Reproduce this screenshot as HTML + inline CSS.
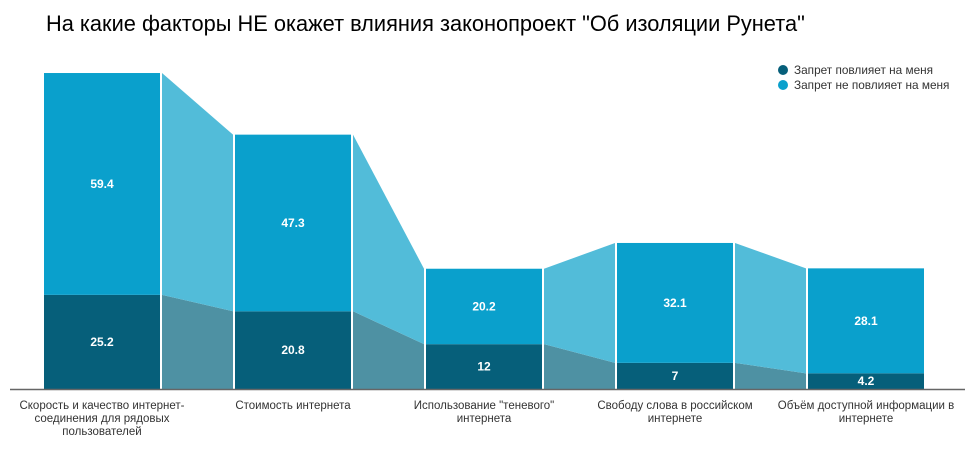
<!DOCTYPE html>
<html><head><meta charset="utf-8">
<style>
body{margin:0;background:#fff;font-family:"Liberation Sans",Arial,sans-serif}
svg{display:block}
</style></head>
<body>
<svg id="chart" width="975" height="452">
<text x="46" y="31" font-size="21.8" fill="#000">На какие факторы НЕ окажет влияния законопроект "Об изоляции Рунета"</text>
<g>
<circle cx="783" cy="70" r="5" fill="#065f7a"/>
<text x="794" y="74" font-size="11.8" fill="#333">Запрет повлияет на меня</text>
<circle cx="783" cy="85" r="5" fill="#0aa0cc"/>
<text x="794" y="89" font-size="11.8" fill="#333">Запрет не повлияет на меня</text>
</g>
<g id="plot"></g>
</svg>
<script>
const categories = [["Скорость и качество интернет-","соединения для рядовых","пользователей"],["Стоимость интернета"],["Использование \"теневого\"","интернета"],["Свободу слова в российском","интернете"],["Объём доступной информации в","интернете"]];
const affects = [25.2, 20.8, 12, 7, 4.2];
const noEffect = [59.4, 47.3, 20.2, 32.1, 28.1];

const NS = "http://www.w3.org/2000/svg";
const plot = document.getElementById("plot");
const base = 389, scale = 3.735, barW = 116, x0 = 44, step = 191;
const y = v => base - v * scale;
const xb = i => x0 + i * step;
function mk(tag, attrs, parent){ const e=document.createElementNS(NS,tag); for(const k in attrs) e.setAttribute(k,attrs[k]); (parent||plot).appendChild(e); return e; }

for (let i = 0; i < categories.length - 1; i++) {
  const xa = xb(i) + barW + 2, xc = xb(i+1) - 2;
  const a1 = y(affects[i]), a2 = y(affects[i+1]);
  const t1 = y(affects[i] + noEffect[i]), t2 = y(affects[i+1] + noEffect[i+1]);
  const p1 = mk("polygon", {points:`${xa},${a1} ${xc},${a2} ${xc},${base} ${xa},${base}`, fill:"#4e91a3"});
  
  
  const p2 = mk("polygon", {points:`${xa},${t1} ${xc},${t2} ${xc},${a2} ${xa},${a1}`, fill:"#52bcd9"});
  
  
}
for (let i = 0; i < categories.length; i++) {
  const x = xb(i);
  const r1 = mk("rect", {x:x, y:y(affects[i]), width:barW, height:base - y(affects[i]), fill:"#065f7a"});
  
  
  const top = y(affects[i] + noEffect[i]);
  const r2 = mk("rect", {x:x, y:top, width:barW, height:y(affects[i]) - top, fill:"#0aa0cc"});
  
  
  const l1 = mk("text", {x:x+barW/2, y:(y(affects[i])+base)/2+4, "text-anchor":"middle", "font-size":"12", "font-weight":"bold", fill:"#fff"});
  l1.textContent = affects[i];
  
  
  const l2 = mk("text", {x:x+barW/2, y:(top+y(affects[i]))/2+4, "text-anchor":"middle", "font-size":"12", "font-weight":"bold", fill:"#fff"});
  l2.textContent = noEffect[i];
  
  
  const t = mk("text", {"text-anchor":"middle", "font-size":"11.5", fill:"#333"});
  
  
  categories[i].forEach((line, j) => {
    const ts = mk("tspan", {x:x+barW/2, y:409 + j*13}, t);
    ts.textContent = line;
  });
}
const ax = mk("line", {x1:10, x2:965, y1:389.5, y2:389.5, stroke:"#666", "stroke-width":"1.5"});


</script>
</body></html>
